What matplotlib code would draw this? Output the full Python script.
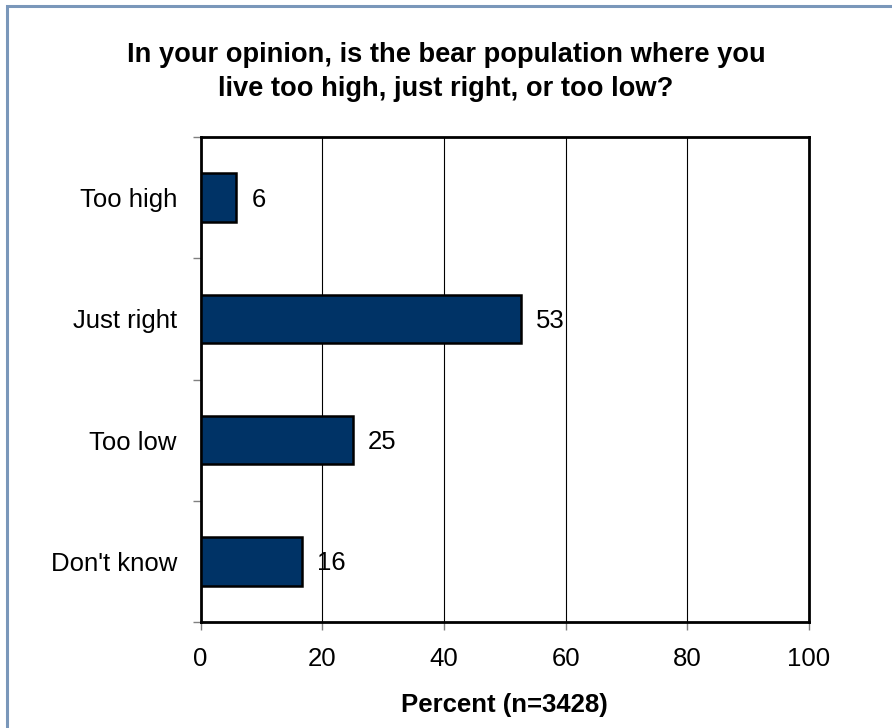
import matplotlib
matplotlib.use("Agg")
from matplotlib import pyplot as plt
from matplotlib.patches import Rectangle

plt.rcParams['font.family'] = ['Liberation Sans', 'DejaVu Sans']

categories = ['Too high', 'Just right', 'Too low', "Don't know"]
percent = [5.9, 52.7, 25.1, 16.6]
labels = ['6', '53', '25', '16']
xticks = [0, 20, 40, 60, 80, 100]

W, H = 892, 728
fig = plt.figure(figsize=(W / 100, H / 100), dpi=100)

# light blue frame around the chart (open at right and bottom)
fig.patches.append(Rectangle((7 / W, -0.1), 1.2, 1 - 6 / H + 0.1,
                             transform=fig.transFigure, fill=False,
                             edgecolor='#7a97ba', linewidth=2.2))

ax = fig.add_axes([200.5 / W, 1 - 622 / H, 608.5 / W, 485 / H])

ypos = list(range(len(categories)))
ax.barh(ypos, percent, height=0.4, color='#003366', edgecolor='black',
        linewidth=1.8, zorder=3)

for y, v, lab in zip(ypos, percent, labels):
    ax.annotate(lab, (v, y), xytext=(15, -2), textcoords='offset pixels',
                ha='left', va='center', fontsize=18.5, zorder=4)

ax.set_xlim(0, 100)
ax.set_ylim(len(categories) - 0.5, -0.5)
ax.set_xticks(xticks)
ax.set_xticklabels([str(t) for t in xticks], fontsize=18.5)
ax.set_yticks(ypos)
ax.set_yticklabels(categories, fontsize=18.5)
ax.set_yticks([i - 0.5 for i in range(len(categories) + 1)], minor=True)
ax.tick_params(axis='y', which='major', length=0, pad=17)
ax.tick_params(axis='y', which='minor', length=6, width=1, color='#808080',
               direction='out')
ax.tick_params(axis='x', which='major', length=6, width=1, color='#808080',
               direction='out', pad=12)

ax.xaxis.grid(True, color='black', linewidth=0.8, zorder=0)
ax.set_axisbelow(True)
for s in ax.spines.values():
    s.set_linewidth(2)
    s.set_color('black')

ax.set_xlabel('Percent (n=3428)', fontsize=18.5, fontweight='bold', labelpad=16)

fig.text(0.5, 1 - 72 / H,
         'In your opinion, is the bear population where you\n'
         'live too high, just right, or too low?',
         ha='center', va='center', fontsize=19.6, fontweight='bold',
         linespacing=1.42)

fig.savefig('out.png', dpi=100)
